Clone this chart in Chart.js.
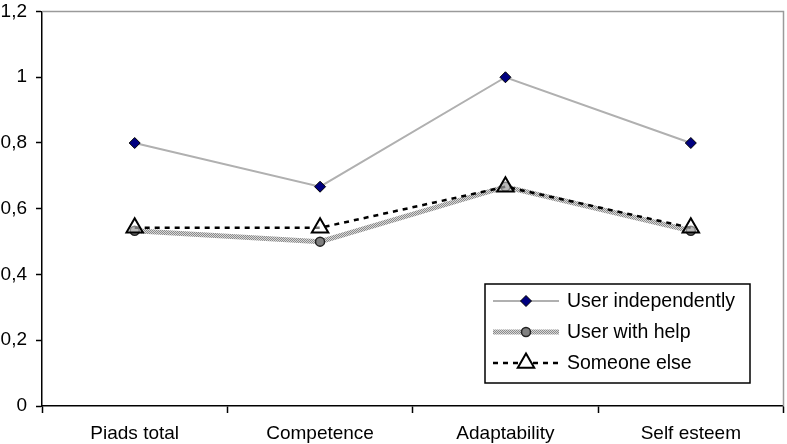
<!DOCTYPE html>
<html>
<head>
<meta charset="utf-8">
<script src="https://cdn.jsdelivr.net/npm/chart.js@4"></script>
<style>
  html, body { margin: 0; padding: 0; background: #fff; overflow: hidden; }
  #wrap { width: 795px; height: 444px; }
</style>
</head>
<body>
<div id="wrap"><canvas id="chart"></canvas></div>
<script>
// Chart data
const categories = ['Piads total', 'Competence', 'Adaptability', 'Self esteem'];
const userIndependently = [0.8, 0.667, 1.0, 0.8];
const userWithHelp = [0.533, 0.5, 0.667, 0.533];
const someoneElse = [0.542, 0.542, 0.667, 0.542];
const yTicks = [0, 0.2, 0.4, 0.6, 0.8, 1, 1.2];

const FONT = '"Liberation Sans", Arial, sans-serif';

// Dotted grey texture for the "with help" line
function makePattern() {
    const c = document.createElement('canvas');
    c.width = 2; c.height = 2;
    const g = c.getContext('2d');
    g.fillStyle = '#d8d8d8';
    g.fillRect(0, 0, 2, 2);
    g.fillStyle = '#8a8a8a';
    g.fillRect(0, 0, 1, 1);
    g.fillRect(1, 1, 1, 1);
    return g.createPattern(c, 'repeat');
}
const helpPattern = makePattern();

// Gray frame on top and right of the plot area
const framePlugin = {
    id: 'frame',
    beforeDatasetsDraw(chart) {
        const { ctx, chartArea: a } = chart;
        ctx.save();
        ctx.strokeStyle = '#9a9a9a';
        ctx.lineWidth = 1.5;
        ctx.beginPath();
        ctx.moveTo(a.left, a.top);
        ctx.lineTo(a.right, a.top);
        ctx.lineTo(a.right, a.bottom);
        ctx.stroke();
        ctx.restore();
    }
};

// Legend box inside the plot
const boxLegend = {
    id: 'boxLegend',
    afterDraw(chart) {
        const { ctx } = chart;
        const x = 485, y = 284, w = 265, h = 99;
        ctx.save();
        ctx.fillStyle = '#fff';
        ctx.fillRect(x, y, w, h);
        ctx.strokeStyle = '#000';
        ctx.lineWidth = 1.5;
        ctx.strokeRect(x, y, w, h);
        chart.data.datasets.forEach((ds, i) => {
            const cy = y + 17 + i * 31;
            const x0 = x + 8, x1 = x + 74, xm = (x0 + x1) / 2;
            ctx.save();
            ctx.strokeStyle = ds.borderColor;
            ctx.lineWidth = ds.borderWidth;
            ctx.setLineDash(ds.borderDash || []);
            ctx.beginPath();
            ctx.moveTo(x0, cy);
            ctx.lineTo(x1, cy);
            ctx.stroke();
            ctx.restore();
            ctx.fillStyle = ds.legendFill || ds.pointBackgroundColor;
            ctx.strokeStyle = ds.pointBorderColor;
            ctx.lineWidth = ds.pointBorderWidth;
            ctx.setLineDash([]);
            Chart.helpers.drawPoint(ctx, {
                pointStyle: ds.pointStyle,
                radius: ds.pointRadius,
                borderWidth: ds.pointBorderWidth,
                rotation: 0
            }, xm, cy);
            ctx.fillStyle = '#000';
            ctx.font = '19.5px ' + FONT;
            ctx.textBaseline = 'middle';
            ctx.textAlign = 'left';
            ctx.fillText(ds.label, x + 82, cy + 1);
        });
        ctx.restore();
    }
};

new Chart(document.getElementById('chart'), {
    type: 'line',
    data: {
        labels: categories,
        datasets: [
            {
                label: 'User independently',
                data: userIndependently,
                borderColor: '#b0b0b0',
                borderWidth: 2,
                pointStyle: 'rectRot',
                pointRadius: 5.5,
                pointBackgroundColor: '#000080',
                pointBorderColor: '#000',
                pointBorderWidth: 1,
                order: 1
            },
            {
                label: 'User with help',
                data: userWithHelp,
                borderColor: helpPattern,
                borderWidth: 5,
                pointStyle: 'circle',
                pointRadius: 4.5,
                pointBackgroundColor: '#808080',
                pointBorderColor: '#222',
                pointBorderWidth: 1.5,
                order: 3
            },
            {
                label: 'Someone else',
                data: someoneElse,
                borderColor: '#000',
                borderWidth: 2.5,
                borderDash: [5, 5],
                pointStyle: 'triangle',
                pointRadius: 9.5,
                pointBackgroundColor: 'rgba(255,255,255,0.45)',
                legendFill: '#fff',
                pointBorderColor: '#000',
                pointBorderWidth: 2,
                order: 2
            }
        ]
    },
    options: {
        responsive: true,
        maintainAspectRatio: false,
        animation: false,
        layout: { padding: { top: 11, right: 0, left: 0, bottom: 0 } },
        plugins: {
            legend: { display: false },
            tooltip: { enabled: false }
        },
        scales: {
            x: {
                offset: true,
                grid: {
                    offset: true,
                    drawOnChartArea: false,
                    tickLength: 7,
                    tickColor: '#000',
                    tickWidth: 1.5
                },
                border: { color: '#000', width: 1.5 },
                ticks: {
                    color: '#000',
                    padding: 9,
                    font: { family: FONT, size: 19 }
                },
                afterFit(scale) {
                    scale.height = 38;
                    scale.paddingLeft = 0;
                    scale.paddingRight = 0;
                }
            },
            y: {
                min: 0,
                max: 1.2,
                afterBuildTicks(scale) {
                    scale.ticks = yTicks.map(v => ({ value: v }));
                },
                grid: {
                    drawOnChartArea: false,
                    tickLength: 6,
                    tickColor: '#000',
                    tickWidth: 1.5
                },
                border: { color: '#000', width: 1.5 },
                ticks: {
                    color: '#000',
                    padding: 9,
                    font: { family: FONT, size: 19 },
                    callback: v => String(v).replace('.', ',')
                },
                afterFit(scale) {
                    scale.width = 42;
                    scale.paddingTop = 0;
                    scale.paddingBottom = 0;
                }
            }
        }
    },
    plugins: [framePlugin, boxLegend]
});
</script>
</body>
</html>
